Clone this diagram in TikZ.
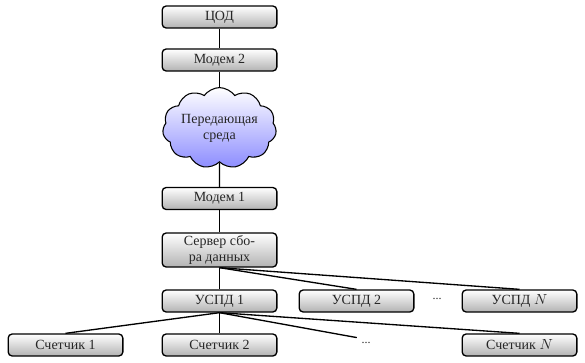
\documentclass[tikz,border=0pt]{standalone}
\usepackage{fontspec}
\setmainfont{Liberation Serif}
\usetikzlibrary{shapes.symbols,shadows}
\begin{document}
\begin{tikzpicture}[x=0.75pt,y=-0.75pt,
  box/.style={draw=black,line width=1pt,rounded corners=3pt,top color=white,bottom color=black!30,
    minimum width=86pt,minimum height=16.5pt,inner sep=1pt,font=\fontsize{10.5}{11.5}\selectfont,text=black!85,align=center},
  cloudbox/.style={cloud,cloud puffs=11,cloud puff arc=110,aspect=1.6,draw=black,line width=0.8pt,
    top color=white,bottom color=blue!45!white,minimum width=84pt,minimum height=54pt,inner sep=0pt,
    font=\fontsize{10.5}{12}\selectfont,text=black!85,align=center},
  dots/.style={font=\small,text=black!85},
  link/.style={line width=1pt,black}]
\useasboundingbox (0,0) rectangle (585,362);
\node[box] (cod) at (219.5,17) {ЦОД};
\node[box] (m2) at (219.5,60) {Модем 2};
\node[cloudbox] (cl) at (219.5,128) {Передающая\\среда};
\node[box] (m1) at (219.5,198.5) {Модем 1};
\node[box,minimum height=25.5pt] (srv) at (219.5,250) {Сервер сбо-\\ра данных};
\node[box] (u1) at (219.5,301) {УСПД 1};
\node[box] (u2) at (356.5,301) {УСПД 2};
\node[dots] (ud) at (437,299) {...};
\node[box] (un) at (519.5,301) {УСПД $N$};
\node[box] (c1) at (65.5,345) {Счетчик 1};
\node[box] (c2) at (219.5,345) {Счетчик 2};
\node[dots] (cd) at (366,343) {...};
\node[box] (cn) at (519.5,345) {Счетчик $N$};
\draw[link] (cod) -- (m2);
\draw[link] (m2) -- (cl);
\draw[link] (cl) -- (m1);
\draw[link] (m1) -- (srv);
\draw[link] (srv.south) -- (u1.north);
\draw[link] (srv.south) -- (u2.north);
\draw[link] (srv.south) -- (un.north);
\draw[link] (u1.south) -- (c1.north);
\draw[link] (u1.south) -- (c2.north);
\draw[link] (u1.south) -- (cd.north west);
\draw[link] (u1.south) -- (cn.north);
\end{tikzpicture}
\end{document}
